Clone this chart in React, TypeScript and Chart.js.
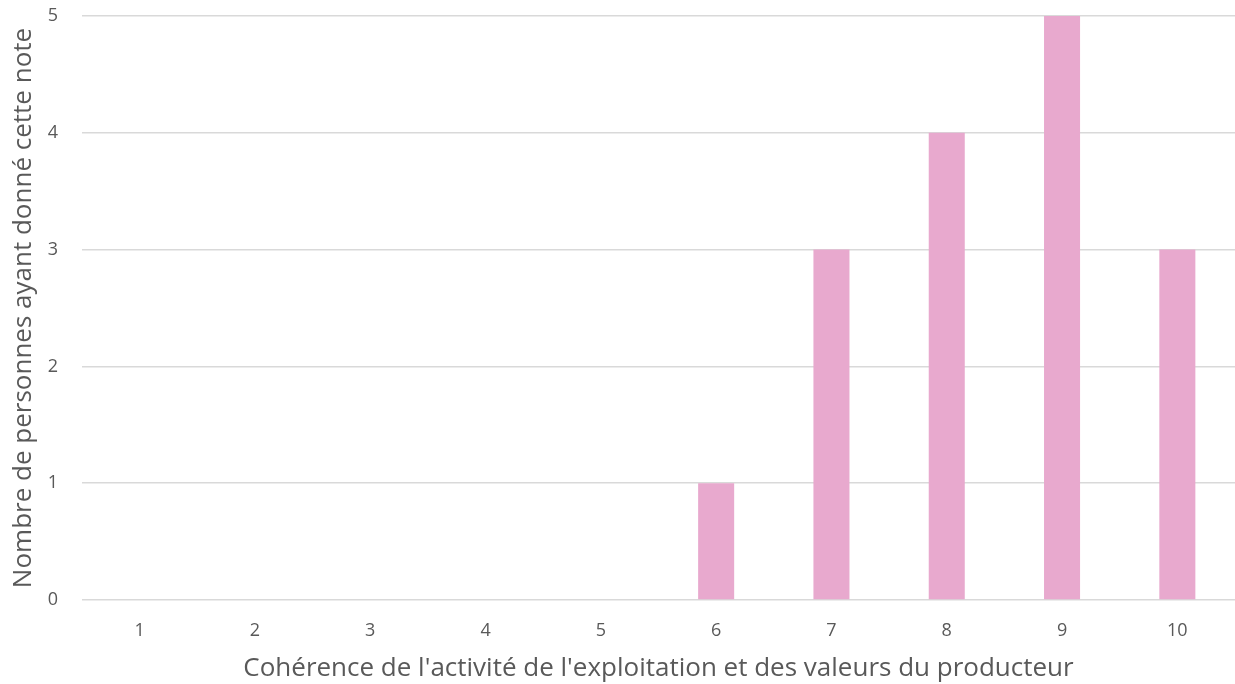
import React, { useEffect, useRef } from "react";
import { Chart, registerables } from "chart.js";

Chart.register(...registerables);

const categories = ["1", "2", "3", "4", "5", "6", "7", "8", "9", "10"];
const counts = [0, 0, 0, 0, 0, 1, 3, 4, 5, 3];
const xTitle = "Cohérence de l'activité de l'exploitation et des valeurs du producteur";
const yTitle = "Nombre de personnes ayant donné cette note";

export default function App() {
  const ref = useRef<HTMLCanvasElement | null>(null);
  useEffect(() => {
    if (!ref.current) return;
    const chart = new Chart(ref.current, {
      type: "bar",
      data: {
        labels: categories,
        datasets: [
          {
            data: counts,
            backgroundColor: "#E8A9CE",
            borderWidth: 0,
            barPercentage: 0.3125,
            categoryPercentage: 1,
          },
        ],
      },
      options: {
        responsive: false,
        animation: false,
        layout: { padding: { top: 16, right: -3, left: 0, bottom: 0 } },
        plugins: { legend: { display: false }, tooltip: { enabled: false } },
        scales: {
          x: {
            grid: { display: false, drawTicks: false },
            border: { display: false },
            ticks: {
              color: "#595959",
              font: { family: "Open Sans", size: 18 },
              padding: 20,
              maxRotation: 0,
            },
            title: {
              display: true,
              text: xTitle,
              color: "#595959",
              font: { family: "Open Sans", size: 26 },
              padding: { top: 0, bottom: 0 },
            },
            afterFit: (s: any) => {
              s.height = 84;
              s.paddingLeft = 0;
              s.paddingRight = 0;
            },
          },
          y: {
            min: 0,
            max: 5,
            grid: { color: "#d9d9d9", lineWidth: 1.5, drawTicks: false },
            border: { display: false },
            ticks: {
              stepSize: 1,
              color: "#595959",
              font: { family: "Open Sans", size: 18 },
              padding: 24,
            },
            title: {
              display: true,
              text: yTitle,
              color: "#595959",
              font: { family: "Open Sans", size: 26 },
              padding: { top: 8, bottom: 0 },
            },
            afterFit: (s: any) => {
              s.width = 82;
              s.paddingTop = 0;
              s.paddingBottom = 0;
            },
          },
        },
      },
    });
    return () => chart.destroy();
  }, []);
  return (
    <div style={{ position: "absolute", left: 0, top: 0, width: 1235, height: 684, background: "#fff" }}>
      <canvas ref={ref} width={1235} height={684} />
    </div>
  );
}
